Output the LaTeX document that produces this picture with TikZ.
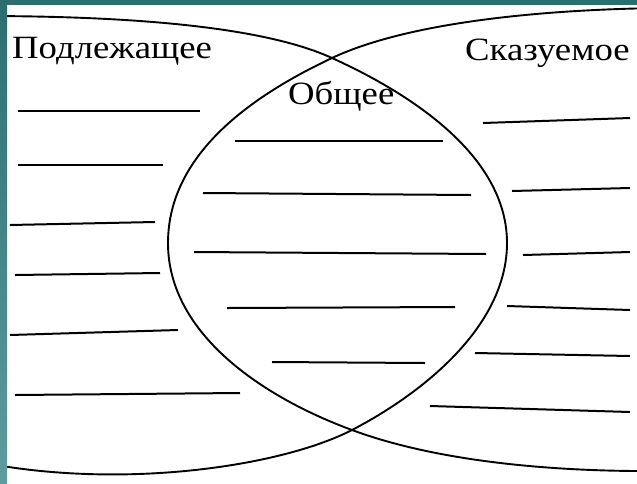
\documentclass[tikz,border=0pt]{standalone}
\usepackage{fontspec}
\setmainfont{Liberation Serif}
\definecolor{tealA}{HTML}{2C6E70}
\definecolor{tealB}{HTML}{5E9C9E}
\begin{document}
\begin{tikzpicture}[x=1pt,y=-1pt,
  curve/.style={line width=1.9pt, black, line join=round},
  blank/.style={line width=2pt, black},
  lbl/.style={anchor=base west, inner sep=0pt, xscale=1.13, font=\fontsize{32.5}{38}\selectfont}]
\useasboundingbox (0,0) rectangle (637,483);
\fill[white] (0,0) rectangle (637,483);
\shade[top color=tealA, bottom color=tealB] (0,0) rectangle (7,483);
\fill[tealA] (0,0) rectangle (637,5);
\coordinate (top) at (332,58);
\coordinate (bot) at (352,430);
\coordinate (Lx) at (507,243);
\coordinate (Rx) at (168,243);
\begin{scope}
\clip (7,5) rectangle (637,483);
% left ellipse
\draw[curve] (-20,16) .. controls (120,16) and (260,25) .. (top)
  .. controls (420,98) and (507,160) .. (Lx)
  .. controls (507,325) and (425,392) .. (bot)
  .. controls (280,467) and (120,490) .. (-20,462);
% right ellipse
\draw[curve] (660,8) .. controls (520,10) and (400,26) .. (top)
  .. controls (260,92) and (168,150) .. (Rx)
  .. controls (168,335) and (265,398) .. (bot)
  .. controls (430,459) and (540,472) .. (660,471);
\end{scope}
% labels
\node[lbl] (subj) at (12,58) {Подлежащее};
\node[lbl] (pred) at (465,60) {Сказуемое};
\node[lbl] (comm) at (288,104) {Общее};
% left blanks
\draw[blank] (18,111) -- (200,111);
\draw[blank] (18,165) -- (163,165);
\draw[blank] (10,225) -- (155,222);
\draw[blank] (15,275) -- (160,273);
\draw[blank] (10,335) -- (178,330);
\draw[blank] (15,395) -- (240,393);
% middle blanks
\draw[blank] (235,141) -- (443,141);
\draw[blank] (203,193) -- (471,195);
\draw[blank] (194,252) -- (486,254);
\draw[blank] (227,308) -- (455,307);
\draw[blank] (272,362) -- (425,363);
% right blanks
\draw[blank] (483,123) -- (630,118);
\draw[blank] (512,191) -- (630,188);
\draw[blank] (523,255) -- (630,252);
\draw[blank] (507,306) -- (630,310);
\draw[blank] (475,353) -- (630,356);
\draw[blank] (430,406) -- (630,412);
\end{tikzpicture}
\end{document}
